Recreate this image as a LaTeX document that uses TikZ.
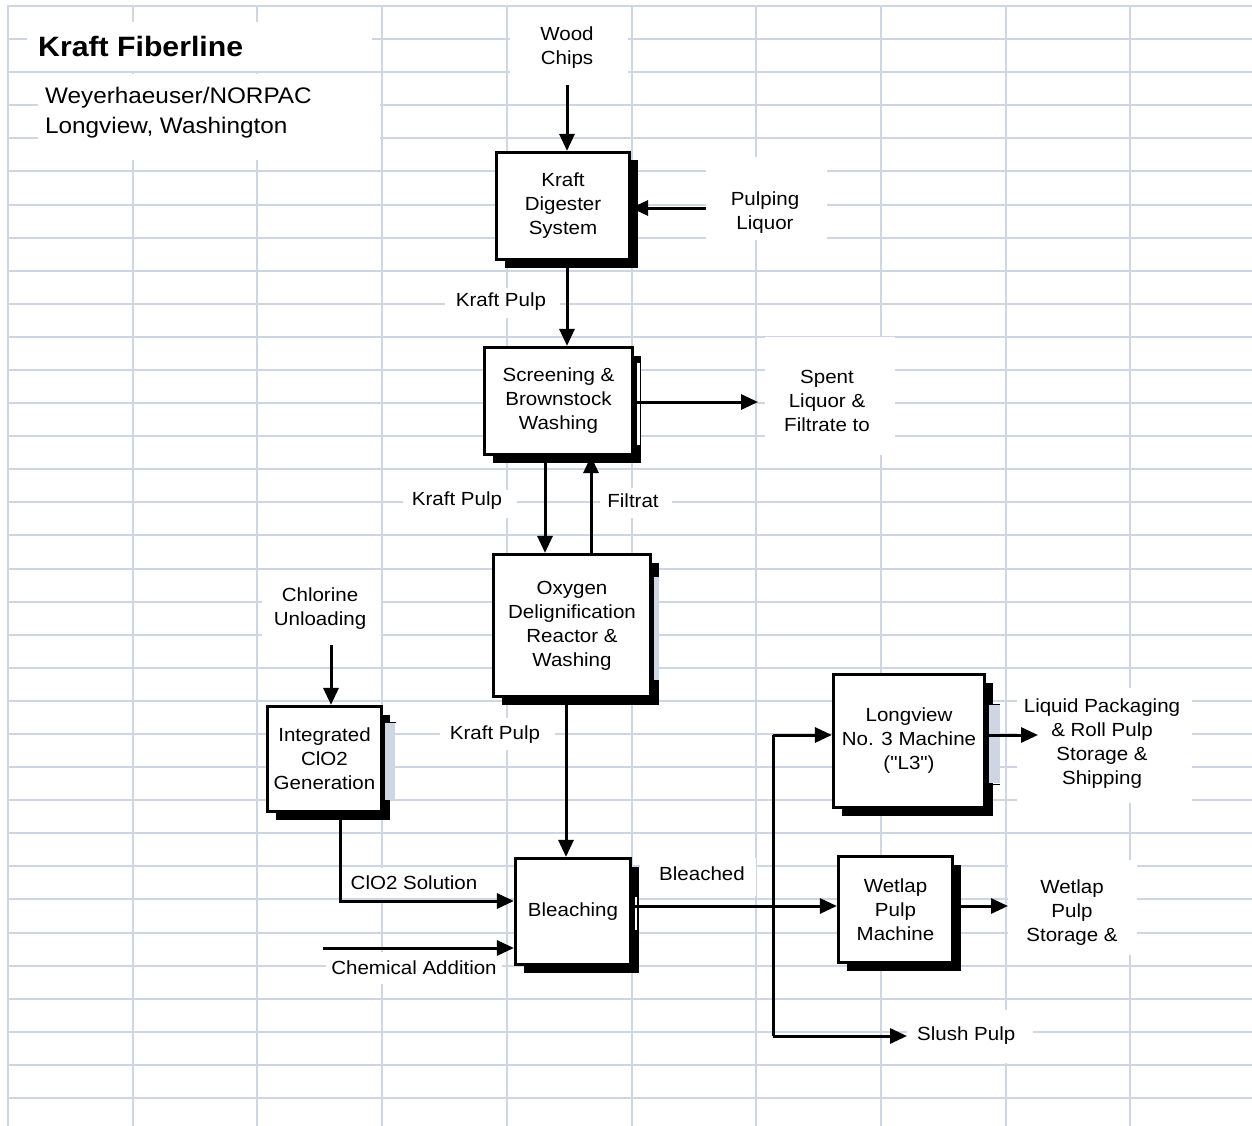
\documentclass[tikz,border=0pt]{standalone}
\usepackage{fontspec}
\setmainfont{Liberation Sans}[FakeStretch=1.08, Ligatures=TeXOff]
\usetikzlibrary{arrows.meta,shadows}
\definecolor{gridc}{RGB}{207,214,227}
\newcommand\myfs{\fontsize{19}{24}\selectfont}
\begin{document}
\begin{tikzpicture}[x=1pt,y=-1pt,
  gridl/.style={draw=gridc, line width=2pt},
  box/.style={draw=black, line width=3.2pt, fill=white, align=center, inner sep=0pt, font=\myfs,
     drop shadow={shadow xshift=8pt, shadow yshift=-8pt, opacity=1, fill=black}},
  arr/.style={line width=3pt, -{Triangle[length=17pt,width=15pt]}},
  ln/.style={line width=3pt},
  txt/.style={align=center, inner sep=0pt, font=\myfs}]
\useasboundingbox (0,0) rectangle (1252,1126);
\fill[white] (0,0) rectangle (1252,1126);
% grid
\foreach \i in {0,...,9} \draw[gridl] ({8+124.7*\i},5) -- ({8+124.7*\i},1126);
\foreach \j in {0,...,33} \draw[gridl] (7,{6+33.09*\j}) -- (1252,{6+33.09*\j});
% text backgrounds
\foreach \a/\b/\c/\d in {27/22/372/71, 38/74/380/160, 510/8/628/86, 706/157/827/240,
  445/288/560/318, 765/337/895/455, 403/490/517/518, 600/488/672/518, 262/578/381/640,
  440/718/555/750, 340/868/490/898, 326/952/502/984, 640/858/756/896, 1017/688/1192/803,
  1008/860/1137/955, 907/1010/1033/1063}
  \fill[white] (\a,\b) rectangle (\c,\d);
% titles
\node[anchor=base west, inner sep=0pt, font=\bfseries\fontsize{28}{32}\selectfont] (title) at (38,57) {Kraft Fiberline};
\node[anchor=north west, inner sep=0pt, align=left, font=\fontsize{22.5}{30}\selectfont] (sub) at (45,86.5) {Weyerhaeuser/NORPAC\\Longview, Washington};
% boxes
\node[box, minimum width=133, minimum height=107] (dig) at (563,206) {Kraft\\Digester\\System};
\node[box, minimum width=148, minimum height=107] (scr) at (558.5,401) {Screening \&\\Brownstock\\Washing};
\node[box, minimum width=157, minimum height=142] (oxy) at (572,625.5) {Oxygen\\Delignification\\Reactor \&\\Washing};
\node[box, minimum width=114, minimum height=105] (clo) at (324.5,759) {Integrated\\ClO2\\Generation};
\node[box, minimum width=115, minimum height=106] (ble) at (573,911.5) {Bleaching};
\node[box, minimum width=151, minimum height=133] (l3) at (909,741) {Longview\\No. 3 Machine\\("L3")};
\node[box, minimum width=114, minimum height=106] (wet) at (895.5,909.5) {Wetlap\\Pulp\\Machine};
% shadow artefacts
\fill[gridc] (385,722) rectangle (395,800);
\draw[line width=1pt] (383,722) -- (396,722);
\fill[gridc] (654,577) rectangle (659,680);
\fill[gridc] (988.5,704) rectangle (1000,783);
\draw[line width=1pt] (986,704) -- (1000,704) (986,784) -- (1000,784);
\fill[white] (634.5,897) rectangle (637,930);
\fill[white] (637,363) rectangle (639.5,445);
% labels
\node[txt] (wood) at (567,48) {Wood\\Chips};
\node[txt] (pul) at (765,213) {Pulping\\Liquor};
\node[txt] (kp1) at (501,302) {Kraft Pulp};
\node[txt] (spent) at (827,401) {Spent\\Liquor \&\\Filtrate to};
\node[txt] (kp2) at (457,501) {Kraft Pulp};
\node[txt] (filt) at (633,501) {Filtrat};
\node[txt] (chl) at (320,609) {Chlorine\\Unloading};
\node[txt] (kp3) at (495,735) {Kraft Pulp};
\node[txt] (clos) at (414,883) {ClO2 Solution};
\node[txt] (chem) at (414,968) {Chemical Addition};
\node[txt] (bl) at (702,874) {Bleached};
\node[txt] (liq) at (1102,744) {Liquid Packaging\\\& Roll Pulp\\Storage \&\\Shipping};
\node[txt] (wst) at (1072,913) {Wetlap\\Pulp\\Storage \&};
\node[txt, anchor=west] (slush) at (917,1036) {Slush Pulp};
% coordinates
\coordinate (woodend) at (567,85);
\coordinate (pulend) at (706,208);
\coordinate (xk) at (567,0);
\coordinate (spentend) at (758,402);
\coordinate (xa) at (545,0);
\coordinate (xb) at (591,0);
\coordinate (chlend) at (331,645);
\coordinate (xc) at (340,0);
\coordinate (ycl) at (0,901);
\coordinate (chemstart) at (323,948);
\coordinate (xd) at (566,0);
\coordinate (yb) at (0,906);
\coordinate (jt) at (773,735);
\coordinate (jb) at (773,1036);
\coordinate (slushend) at (907,1036);
\coordinate (liqend) at (1038,735);
\coordinate (wstend) at (1008,906);
% connectors
\draw[arr] (woodend) -- (woodend |- dig.north);
\draw[arr] (pulend) -- (pulend -| dig.east);
\draw[arr] (dig.south -| xk) -- (scr.north -| xk);
\draw[arr] (scr.east |- spentend) -- (spentend);
\draw[arr] (scr.south -| xa) -- (oxy.north -| xa);
\draw[arr] (oxy.north -| xb) -- (scr.south -| xb);
\draw[arr] (chlend) -- (chlend |- clo.north);
\draw[arr] (clo.south -| xc) |- (ble.west |- ycl);
\draw[arr] (chemstart) -- (chemstart -| ble.west);
\draw[arr] (oxy.south -| xd) -- (ble.north -| xd);
\draw[arr] (ble.east |- yb) -- (wet.west |- yb);
\draw[ln] (jt) -- (jb);
\draw[arr] (jt) -- (jt -| l3.west);
\draw[arr] (jb) -- (slushend);
\draw[arr] (l3.east |- jt) -- (liqend);
\draw[arr] (wet.east |- yb) -- (wstend);
\end{tikzpicture}
\end{document}
